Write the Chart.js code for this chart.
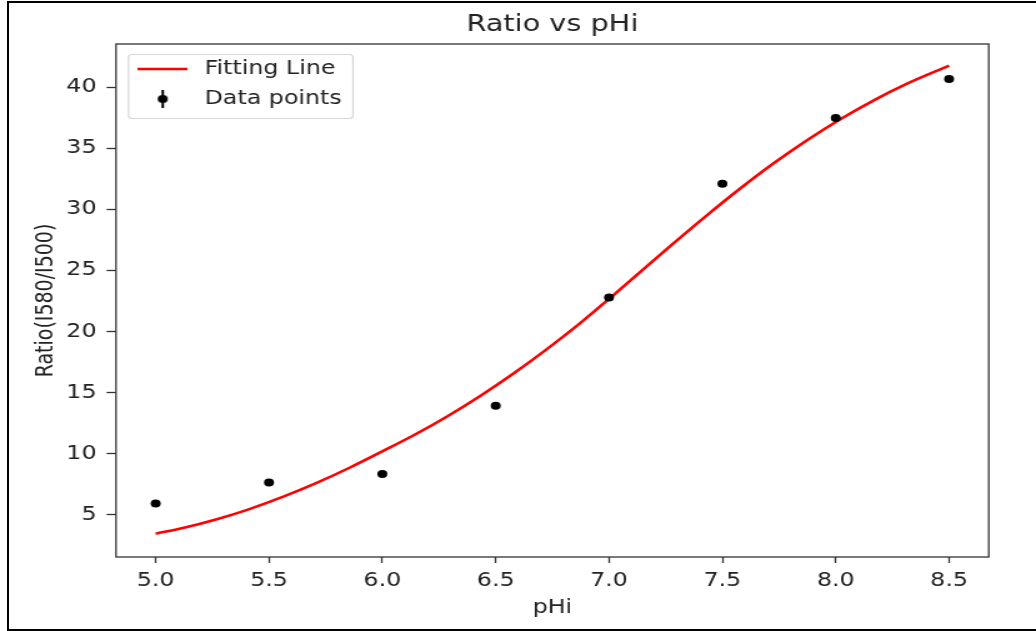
<!DOCTYPE html>
<html>
<head>
<meta charset="utf-8">
<script src="https://cdn.jsdelivr.net/npm/chart.js@4.4.0/dist/chart.umd.min.js"></script>
<style>
  html, body { margin: 0; padding: 0; background: #fff; }
  body { width: 1036px; height: 631px; position: relative; overflow: hidden; }
  #frame { position: absolute; left: 7px; top: 1px; width: 1027px; height: 626px; border: 2px solid #000; border-right: none; }
  #chart { position: absolute; left: 0; top: 0; }
</style>
</head>
<body>
<div id="frame"></div>
<!-- the source picture is stretched sideways, so the canvas is too -->
<canvas id="chart" width="829" height="631" style="width:1036px;height:631px"></canvas>
<script>
// measured points
const phi = [5.0, 5.5, 6.0, 6.5, 7.0, 7.5, 8.0, 8.5];
const ratio = [5.92, 7.64, 8.33, 13.92, 22.8, 32.1, 37.5, 40.68];

// fitted curve
const fitX = [5.0, 5.12, 5.27, 5.41, 5.56, 5.71, 5.86, 6.0, 6.14, 6.28, 6.43, 6.58, 6.72,
  6.87, 7.02, 7.17, 7.28, 7.43, 7.58, 7.72, 7.87, 8.02, 8.17, 8.31, 8.5];
const fitY = [3.45, 3.91, 4.63, 5.44, 6.46, 7.61, 8.89, 10.19, 11.53, 12.99, 14.71, 16.59, 18.48,
  20.65, 22.99, 25.4, 27.16, 29.5, 31.74, 33.7, 35.63, 37.39, 38.96, 40.26, 41.78];

const xTicks = [5.0, 5.5, 6.0, 6.5, 7.0, 7.5, 8.0, 8.5];
const yTicks = [5, 10, 15, 20, 25, 30, 35, 40];

const font = 'DejaVu Sans';
const textColor = '#222';

// legend markers
const lineImg = document.createElement('canvas');
lineImg.width = 40; lineImg.height = 4;
let c = lineImg.getContext('2d');
c.strokeStyle = '#ff0000'; c.lineWidth = 2.6;
c.beginPath(); c.moveTo(0, 2); c.lineTo(40, 2); c.stroke();

const dotImg = document.createElement('canvas');
dotImg.width = 10; dotImg.height = 20;
c = dotImg.getContext('2d');
c.fillStyle = '#000';
c.fillRect(4, 1, 2, 18);
c.beginPath(); c.arc(5, 10, 4, 0, Math.PI * 2); c.fill();

const legendImgs = [lineImg, dotImg];

const framePlugin = {
  id: 'frame',
  afterLayout(chart) {
    const a = chart.chartArea;
    // centre the title over the axes, like matplotlib
    chart.titleBlock.left = a.left;
    chart.titleBlock.right = a.right;
    // legend sits inside the axes
    chart.legend.left = a.left + 2.4;
    chart.legend.top = a.top + 4.5;
    chart.legend.bottom = a.bottom;
  },
  beforeDraw(chart) {
    const boxes = chart.legend.legendHitBoxes;
    if (!boxes || !boxes.length) return;
    const ctx = chart.ctx;
    const left = boxes[0].left - 3.4;
    const top = boxes[0].top - 5;
    const last = boxes[boxes.length - 1];
    const bottom = last.top + last.height + 10;
    const right = Math.max(...boxes.map(b => b.left + b.width)) + 9;
    ctx.save();
    ctx.fillStyle = 'rgba(255,255,255,0.8)';
    ctx.strokeStyle = '#d6d6d6';
    ctx.lineWidth = 1.2;
    ctx.beginPath();
    ctx.roundRect(left, top, right - left, bottom - top, 3);
    ctx.fill();
    ctx.stroke();
    ctx.restore();
  },
  afterDraw(chart) {
    const a = chart.chartArea;
    const ctx = chart.ctx;
    ctx.save();
    ctx.strokeStyle = '#333';
    ctx.lineWidth = 1.3;
    ctx.strokeRect(a.left, a.top, a.right - a.left, a.bottom - a.top);
    ctx.restore();
  }
};

new Chart(document.getElementById('chart'), {
  type: 'scatter',
  data: {
    datasets: [
      {
        type: 'line',
        label: 'Fitting Line',
        data: fitX.map((x, i) => ({ x, y: fitY[i] })),
        borderColor: '#ff0000',
        borderWidth: 2.6,
        pointRadius: 0,
        fill: false,
        cubicInterpolationMode: 'monotone',
        order: 2
      },
      {
        label: 'Data points',
        data: phi.map((x, i) => ({ x, y: ratio[i] })),
        backgroundColor: '#000',
        borderColor: '#000',
        borderWidth: 0,
        pointRadius: 4,
        order: 1
      }
    ]
  },
  options: {
    responsive: false,
    devicePixelRatio: 1,
    animation: false,
    layout: { padding: { left: 0, right: 37.8, top: 0, bottom: 0 } },
    plugins: {
      title: {
        display: true,
        text: 'Ratio vs pHi',
        color: textColor,
        font: { family: font, size: 23, weight: 'normal' },
        padding: { top: 11, bottom: 5.4 }
      },
      legend: {
        position: 'chartArea',
        align: 'start',
        labels: {
          usePointStyle: true,
          pointStyleWidth: 48,
          padding: 11,
          color: textColor,
          font: { family: font, size: 19 },
          generateLabels(chart) {
            const items = Chart.defaults.plugins.legend.labels.generateLabels(chart);
            items.sort((a, b) => a.datasetIndex - b.datasetIndex);
            items.forEach(it => { it.pointStyle = legendImgs[it.datasetIndex]; });
            return items;
          }
        }
      },
      tooltip: { enabled: false }
    },
    scales: {
      x: {
        type: 'linear',
        min: 4.825,
        max: 8.675,
        afterFit(s) { s.height = 74; },
        afterBuildTicks(s) { s.ticks = xTicks.map(v => ({ value: v })); },
        ticks: {
          color: textColor,
          font: { family: font, size: 19 },
          padding: 7,
          maxRotation: 0,
          callback: v => v.toFixed(1)
        },
        grid: { display: true, drawOnChartArea: false, drawTicks: true, tickLength: 6, tickColor: '#333', tickWidth: 1.3 },
        border: { display: false },
        title: {
          display: true,
          text: 'pHi',
          color: textColor,
          font: { family: font, size: 19 },
          padding: { top: 0, bottom: 11.6 }
        }
      },
      y: {
        type: 'linear',
        min: 1.54,
        max: 43.55,
        afterFit(s) { s.width = 92.8; },
        afterBuildTicks(s) { s.ticks = yTicks.map(v => ({ value: v })); },
        ticks: {
          color: textColor,
          font: { family: font, size: 19 },
          padding: 8,
          callback: v => String(v)
        },
        grid: { display: true, drawOnChartArea: false, drawTicks: true, tickLength: 7.5, tickColor: '#333', tickWidth: 1.3 },
        border: { display: false },
        title: {
          display: true,
          text: 'Ratio(I580/I500)',
          color: textColor,
          font: { family: font, size: 19 },
          padding: { top: 25.5, bottom: 0 }
        }
      }
    }
  },
  plugins: [framePlugin]
});
</script>
</body>
</html>
